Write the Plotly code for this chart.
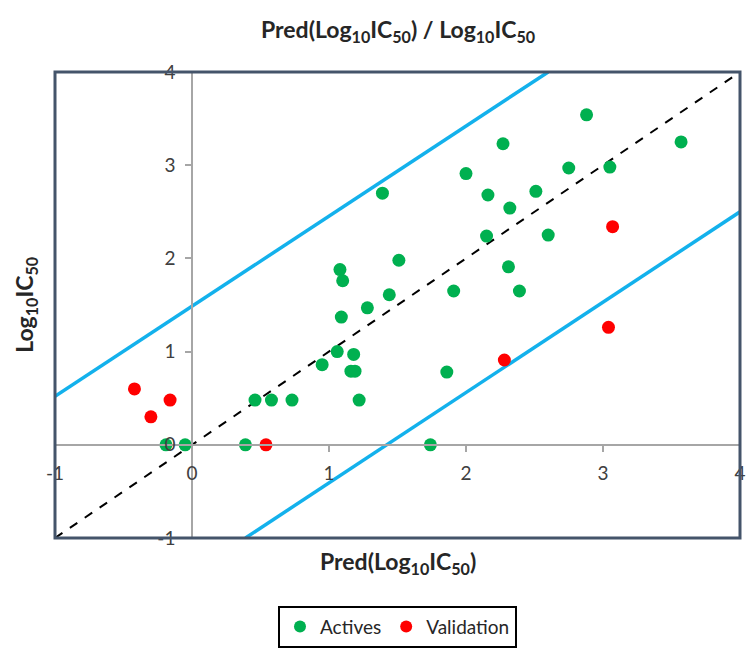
import plotly.graph_objects as go

# Actives (green)
act_x = [-0.19, -0.05, 0.39, 0.46, 0.58, 0.73, 0.95, 1.06, 1.18, 1.16, 1.19, 1.22,
         1.09, 1.08, 1.10, 1.28, 1.44, 1.51, 1.39, 1.86, 1.74, 1.91, 2.00, 2.16,
         2.15, 2.32, 2.31, 2.39, 2.51, 2.60, 2.27, 2.88, 2.75, 3.05, 3.57]
act_y = [0.00, 0.00, 0.00, 0.48, 0.48, 0.48, 0.86, 1.00, 0.97, 0.79, 0.79, 0.48,
         1.37, 1.88, 1.76, 1.47, 1.61, 1.98, 2.70, 0.78, 0.00, 1.65, 2.91, 2.68,
         2.24, 2.54, 1.91, 1.65, 2.72, 2.25, 3.23, 3.54, 2.97, 2.98, 3.25]

# Validation (red)
val_x = [-0.42, -0.16, -0.30, 0.54, 2.28, 3.07, 3.04]
val_y = [0.60, 0.48, 0.30, 0.00, 0.91, 2.34, 1.26]

# Reference lines
diag_x = [-1, 4]
diag_y = [-1, 4]
upper_x = [-1, 2.6]
upper_y = [0.52, 4]
lower_x = [0.39, 4]
lower_y = [-1, 2.5]

ticks = [-1, 0, 1, 2, 3, 4]
tick_text = ["-1", "0", "1", "2", "3", "4"]

FONT = "Lato"
BLUE = "#13B1EC"

fig = go.Figure()
fig.add_trace(go.Scatter(x=upper_x, y=upper_y, mode="lines",
                         line=dict(color=BLUE, width=3.5), showlegend=False, hoverinfo="skip"))
fig.add_trace(go.Scatter(x=lower_x, y=lower_y, mode="lines",
                         line=dict(color=BLUE, width=3.5), showlegend=False, hoverinfo="skip"))
fig.add_trace(go.Scatter(x=diag_x, y=diag_y, mode="lines",
                         line=dict(color="black", width=2, dash="dash"), showlegend=False, hoverinfo="skip"))
fig.add_trace(go.Scatter(x=act_x, y=act_y, mode="markers", name="Actives",
                         marker=dict(color="#00B050", size=13)))
fig.add_trace(go.Scatter(x=val_x, y=val_y, mode="markers", name="Validation",
                         marker=dict(color="#FF0000", size=13)))

axis_common = dict(range=[-1, 4], anchor="free", position=0.2, showgrid=False, zeroline=False,
                   showline=True, linecolor="#A6A6A6", linewidth=1.5, automargin=False,
                   ticks="outside", ticklen=6, tickcolor="#A6A6A6", tickwidth=1.5,
                   tickvals=ticks, ticktext=tick_text, ticklabelstandoff=6,
                   tickfont=dict(family=FONT, size=19, color="#404040"))

fig.update_layout(
    width=746, height=653,
    margin=dict(l=47, r=14, t=64, b=123, autoexpand=False),
    plot_bgcolor="white", paper_bgcolor="white",
    font=dict(family=FONT, color="#404040", size=18),
    xaxis=axis_common,
    yaxis=axis_common,
    legend=dict(orientation="h", x=0.5, xanchor="center", y=-0.19, yanchor="middle",
                bordercolor="black", borderwidth=2, font=dict(family=FONT, size=19, color="#262626"),
                itemsizing="constant", itemwidth=30),
    shapes=[dict(type="rect", xref="paper", yref="paper", x0=0, x1=1, y0=0, y1=1,
                 line=dict(color="#44546A", width=3))],
    annotations=[
        dict(text="<b>Pred(Log<sub>10</sub>IC<sub>50</sub>) / Log<sub>10</sub>IC<sub>50</sub></b>",
             xref="paper", yref="paper", x=0.5, y=1.09, xanchor="center", yanchor="middle",
             showarrow=False, font=dict(family=FONT, size=23, color="#262626")),
        dict(text="<b>Pred(Log<sub>10</sub>IC<sub>50</sub>)</b>",
             xref="paper", yref="paper", x=0.5, y=-0.052, xanchor="center", yanchor="middle",
             showarrow=False, font=dict(family=FONT, size=23, color="#262626")),
        dict(text="<b>Log<sub>10</sub>IC<sub>50</sub></b>", textangle=-90,
             xref="paper", yref="paper", x=-0.044, y=0.5, xanchor="center", yanchor="middle",
             showarrow=False, font=dict(family=FONT, size=23, color="#262626")),
    ],
)

fig.write_html("out.html")
